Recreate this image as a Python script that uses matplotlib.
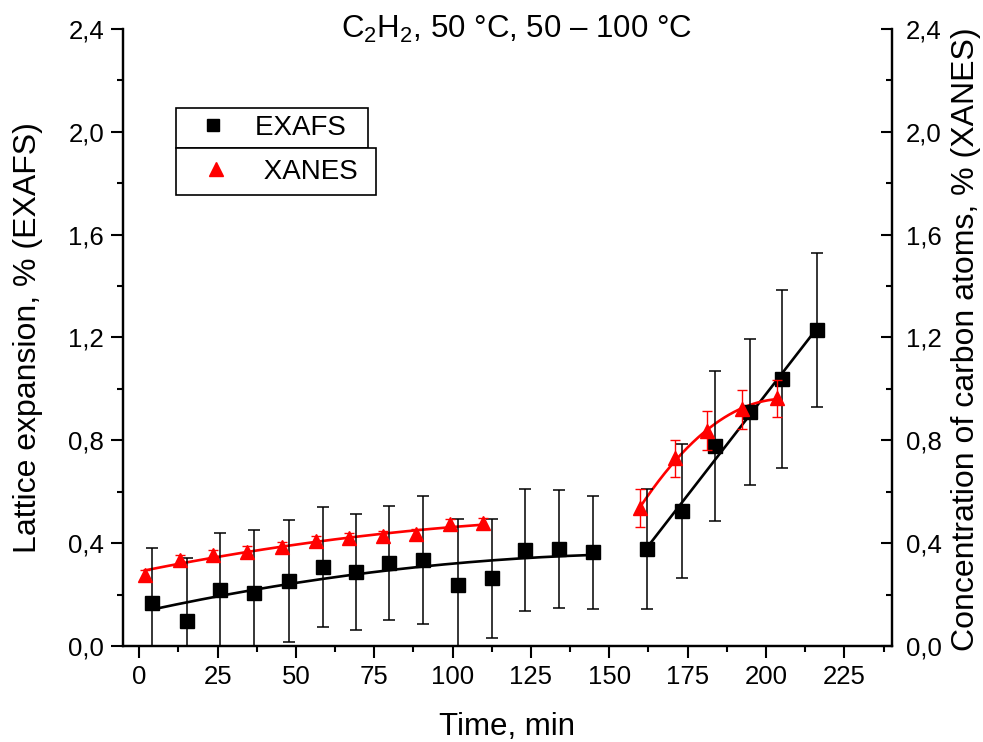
import numpy as np
import matplotlib.pyplot as plt
from matplotlib.ticker import MultipleLocator, FuncFormatter

plt.rcParams['font.family'] = ['Liberation Sans', 'DejaVu Sans']
plt.rcParams['mathtext.fontset'] = 'custom'
plt.rcParams['mathtext.rm'] = 'Liberation Sans'
plt.rcParams['mathtext.it'] = 'Liberation Sans:italic'

# EXAFS: lattice expansion, %, with errors
exafs_t = [4.0, 15.3, 25.8, 36.6, 47.9, 58.5, 69.2, 79.8, 90.5, 101.6, 112.5,
           123.1, 134.1, 144.7, 162.1, 173.1, 183.7, 195.0, 205.0, 216.2]
exafs_y = [0.168, 0.098, 0.218, 0.207, 0.254, 0.308, 0.287, 0.322, 0.335, 0.237, 0.263,
           0.373, 0.376, 0.364, 0.377, 0.525, 0.778, 0.911, 1.039, 1.229]
exafs_err = [0.214, 0.245, 0.223, 0.244, 0.237, 0.233, 0.225, 0.222, 0.25, 0.256, 0.23,
             0.236, 0.23, 0.22, 0.235, 0.26, 0.29, 0.285, 0.347, 0.30]

# XANES: concentration of carbon atoms, %, with errors
xanes_t = [1.8, 13.0, 23.6, 34.3, 45.4, 56.4, 67.0, 77.7, 88.3, 99.2, 109.8,
           159.8, 171.0, 181.3, 192.3, 203.4]
xanes_y = [0.276, 0.335, 0.354, 0.367, 0.386, 0.408, 0.419, 0.428, 0.434, 0.473, 0.477,
           0.536, 0.730, 0.838, 0.920, 0.963]
xanes_err = [0.02, 0.02, 0.02, 0.02, 0.02, 0.02, 0.02, 0.02, 0.02, 0.02, 0.02,
             0.075, 0.073, 0.075, 0.075, 0.073]

n_first_exafs = 14   # 50 °C stage
n_first_xanes = 11

exafs_t = np.array(exafs_t)
exafs_y = np.array(exafs_y)
xanes_t = np.array(xanes_t)
xanes_y = np.array(xanes_y)


def fit_curve(t, y, deg):
    p = np.polyfit(t, y, deg)
    tt = np.linspace(t.min(), t.max(), 200)
    return tt, np.polyval(p, tt)


fig = plt.figure(figsize=(9.83, 7.42), dpi=100)
ax = fig.add_axes([0.1251, 0.1294, 0.7823, 0.8315])
ax2 = ax.twinx()

# fitted curves
for t, y, deg, c in [
    (exafs_t[:n_first_exafs], exafs_y[:n_first_exafs], 2, 'black'),
    (exafs_t[n_first_exafs:], exafs_y[n_first_exafs:], 1, 'black'),
    (xanes_t[:n_first_xanes], xanes_y[:n_first_xanes], 2, 'red'),
    (xanes_t[n_first_xanes:], xanes_y[n_first_xanes:], 2, 'red'),
]:
    tt, yy = fit_curve(t, y, deg)
    ax.plot(tt, yy, color=c, lw=1.9, zorder=2)

ax.errorbar(exafs_t, exafs_y, yerr=exafs_err, fmt='s', color='black', ms=10,
            ecolor='black', elinewidth=1.1, capsize=4.5, capthick=1.1, zorder=3)
ax.errorbar(xanes_t, xanes_y, yerr=xanes_err, fmt='^', color='red', ms=10.5,
            ecolor='red', elinewidth=1.0, capsize=3.5, capthick=1.0, zorder=4)

comma = FuncFormatter(lambda v, pos: f'{v:.1f}'.replace('.', ','))
for a in (ax, ax2):
    a.set_ylim(0, 2.4)
    a.yaxis.set_major_locator(MultipleLocator(0.4))
    a.yaxis.set_minor_locator(MultipleLocator(0.2))
    a.yaxis.set_major_formatter(comma)
    a.spines['top'].set_visible(False)
    for s in a.spines.values():
        s.set_linewidth(1.6)

ax.set_xlim(-5.2, 240.2)
ax.xaxis.set_major_locator(MultipleLocator(25))
ax.xaxis.set_minor_locator(MultipleLocator(12.5))

ax.tick_params(axis='both', which='major', labelsize=18.5, length=8.5, width=1.5, direction='out', pad=5)
ax.tick_params(axis='both', which='minor', length=4.5, width=1.5, direction='out')
ax2.tick_params(axis='y', which='major', labelsize=18.5, length=8, width=1.5, direction='in', pad=10)
ax2.tick_params(axis='y', which='minor', length=4.5, width=1.5, direction='in')

ax.set_xlabel('Time, min', fontsize=22.5)
ax.xaxis.set_label_coords(0.499, -0.107)
ax.set_ylabel('Lattice expansion, % (EXAFS)', fontsize=23)
ax.yaxis.set_label_coords(-0.104, 0.5)
ax2.set_ylabel('Concentration of carbon atoms, % (XANES)', fontsize=23)
ax2.yaxis.set_label_coords(1.077, 0.497)

fig.text(0.526, 0.9488, r'C$_\mathregular{2}$H$_\mathregular{2}$, 50 °C, 50 – 100 °C',
         fontsize=22.5, ha='center', va='baseline')

# legend: two framed boxes stacked
h1 = plt.Line2D([], [], ls='none', marker='s', color='black', ms=8.5)
h2 = plt.Line2D([], [], ls='none', marker='^', color='red', ms=10)
leg_kw = dict(loc='upper left', fontsize=20, frameon=True, fancybox=False,
              framealpha=1, edgecolor='black', borderaxespad=0,
              handletextpad=0.4, numpoints=1)
leg1 = ax2.legend([h1], ['EXAFS  '], bbox_to_anchor=(0.0689, 0.872),
                  borderpad=0.25, handlelength=2.2, **leg_kw)
leg1.get_frame().set_linewidth(1.2)
ax2.add_artist(leg1)
leg2 = ax2.legend([h2], [' XANES '], bbox_to_anchor=(0.0689, 0.807),
                  borderpad=0.38, handlelength=2.1, **leg_kw)
leg2.get_frame().set_linewidth(1.2)

fig.savefig('out.png', dpi=100)
